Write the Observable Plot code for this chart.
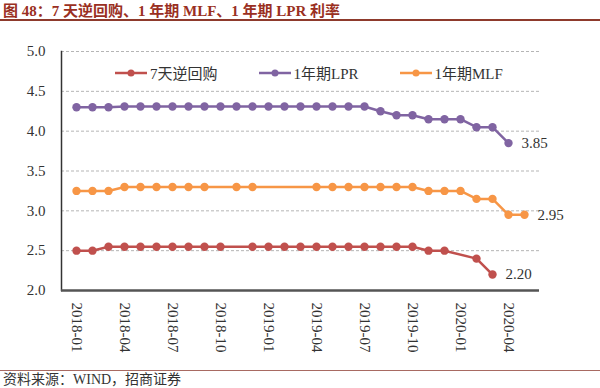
<!DOCTYPE html>
<html>
<head>
<meta charset="utf-8">
<script src="https://cdn.jsdelivr.net/npm/d3@7"></script>
<script src="https://cdn.jsdelivr.net/npm/@observablehq/plot@0.6"></script>
<style>
  body { margin: 0; background: #fff; }
  #wrap { position: relative; width: 600px; height: 388px; overflow: hidden; font-family: "Liberation Serif", "Noto Sans CJK SC", serif; }
  #title { position: absolute; left: 0; top: 0; width: 600px; height: 21px; border-bottom: 2px solid #8e3a2c;
           font-weight: bold; font-size: 15px; color: #9a2f22; line-height: 22px; padding-left: 3px; box-sizing: border-box; white-space: nowrap; }
  #chart { position: absolute; left: 0; top: 25px; }
  #legend { position: absolute; left: 115px; top: 62px; display: flex; gap: 41px; font-size: 15px; color: #333; }
  .item { display: flex; align-items: center; gap: 3px; }
  #footer { position: absolute; left: 0; top: 370px; width: 600px; border-top: 1px solid #a86a62; font-size: 14px;
            color: #333; padding-left: 3px; line-height: 18px; white-space: nowrap; }
</style>
</head>
<body>
<div id="wrap">
  <div id="title">图 48：7 天逆回购、1 年期 MLF、1 年期 LPR 利率</div>
  <div id="chart"></div>
  <div id="legend"></div>
  <div id="footer">资料来源：WIND，招商证券</div>
</div>
<script>
const months = ["2018-01","2018-02","2018-03","2018-04","2018-05","2018-06","2018-07","2018-08","2018-09","2018-10","2018-11","2018-12",
                "2019-01","2019-02","2019-03","2019-04","2019-05","2019-06","2019-07","2019-08","2019-09","2019-10","2019-11","2019-12",
                "2020-01","2020-02","2020-03","2020-04","2020-05"];
const xTickLabels = ["2018-01","2018-04","2018-07","2018-10","2019-01","2019-04","2019-07","2019-10","2020-01","2020-04"];
const yTicks = [2.0, 2.5, 3.0, 3.5, 4.0, 4.5, 5.0];

const seriesNames = ["7天逆回购", "1年期LPR", "1年期MLF"];
const seriesColors = ["#c0504d", "#8064a2", "#f79646"];

const repo7 = [2.50,2.50,2.55,2.55,2.55,2.55,2.55,2.55,2.55,2.55,null,2.55,
               2.55,2.55,2.55,2.55,2.55,2.55,2.55,2.55,2.55,2.55,2.50,2.50,
               null,2.40,2.20,null,null];
const lpr1y = [4.30,4.30,4.30,4.31,4.31,4.31,4.31,4.31,4.31,4.31,4.31,4.31,
               4.31,4.31,4.31,4.31,4.31,4.31,4.31,4.25,4.20,4.20,4.15,4.15,
               4.15,4.05,4.05,3.85,null];
const mlf1y = [3.25,3.25,3.25,3.30,3.30,3.30,3.30,3.30,3.30,null,3.30,3.30,
               null,null,null,3.30,3.30,3.30,3.30,3.30,3.30,3.30,3.25,3.25,
               3.25,3.15,3.15,2.95,2.95];

const allSeries = [repo7, lpr1y, mlf1y];
const rows = [];
allSeries.forEach((vals, s) => vals.forEach((v, i) => {
  if (v != null) rows.push({series: seriesNames[s], month: months[i], value: v});
}));
const lastRows = seriesNames.map(n => rows.filter(r => r.series === n).slice(-1)[0]);

const font = "Liberation Serif, Noto Sans CJK SC, serif";
const plot = Plot.plot({
  width: 600,
  height: 345,
  marginTop: 26,
  marginBottom: 80,
  marginLeft: 61,
  marginRight: 61,
  style: {fontFamily: font, fontSize: "15px", color: "#333", background: "transparent"},
  x: {type: "point", domain: months, padding: 0.5, label: null},
  y: {domain: [2.0, 5.0], label: null},
  color: {domain: seriesNames, range: seriesColors},
  marks: [
    Plot.ruleY(yTicks.filter(d => d > 2), {stroke: "#b5b5b5", strokeDasharray: "3,2", strokeWidth: 1}),
    Plot.frame({anchor: "left", stroke: "#333", strokeWidth: 1.5}),
    Plot.ruleY([2.0], {stroke: "#555", strokeWidth: 2.5}),
    Plot.axisY({ticks: yTicks, tickSize: 0, tickPadding: 16, tickFormat: d => d.toFixed(1), fontSize: 15, fill: "#333", label: null}),
    Plot.axisX({ticks: xTickLabels, tickSize: 0, tickPadding: 12, tickRotate: 90, fontSize: 15, fill: "#333", label: null}),
    Plot.line(rows, {x: "month", y: "value", z: "series", stroke: "series", strokeWidth: 2.5}),
    Plot.dot(rows, {x: "month", y: "value", fill: "series", r: 4.2, stroke: null}),
    Plot.text(lastRows, {x: "month", y: "value", text: d => d.value.toFixed(2), dx: 13, textAnchor: "start", fontSize: 15, fill: "#333"})
  ]
});
document.getElementById("chart").appendChild(plot);

const legend = document.getElementById("legend");
seriesNames.forEach((n, i) => {
  const item = document.createElement("div");
  item.className = "item";
  item.innerHTML = `<svg width="32" height="10"><line x1="0" y1="5" x2="32" y2="5" stroke="${seriesColors[i]}" stroke-width="2.5"/><circle cx="16" cy="5" r="3.5" fill="${seriesColors[i]}"/></svg><span>${n}</span>`;
  legend.appendChild(item);
});
</script>
</body>
</html>
